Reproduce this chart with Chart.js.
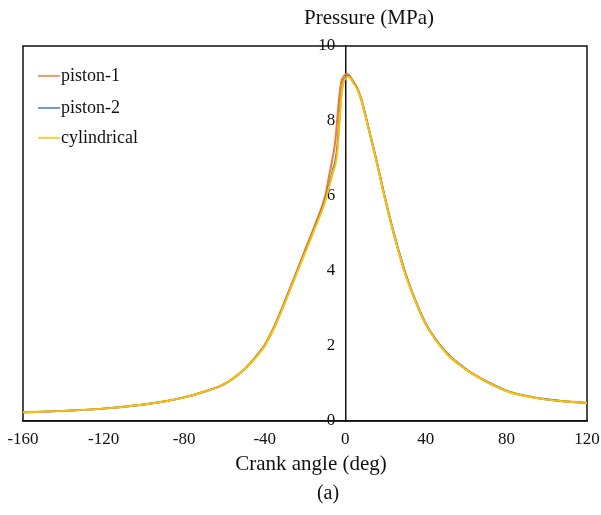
<!DOCTYPE html>
<html>
<head>
<meta charset="utf-8">
<script src="https://cdn.jsdelivr.net/npm/chart.js@4"></script>
<style>
  body { margin: 0; background: #fff; }
</style>
</head>
<body>
<canvas id="pressureChart" width="601" height="515"></canvas>
<script>
const angles = [-160, -140, -120, -100, -90, -80, -70, -60, -50, -45, -40, -35, -30, -25, -20, -15, -10, -8, -6, -5, -4, -3, -2, -1, 0, 1, 2, 3, 4, 6, 8, 10, 15, 20, 25, 30, 35, 40, 50, 60, 70, 80, 90, 100, 110, 120];
const piston1 = [0.23, 0.27, 0.33, 0.44, 0.52, 0.63, 0.78, 0.99, 1.39, 1.68, 2.03, 2.56, 3.2, 3.87, 4.56, 5.24, 6.0, 6.55, 7.1, 7.45, 8.05, 8.65, 9.05, 9.18, 9.24, 9.26, 9.22, 9.14, 9.05, 8.86, 8.56, 8.15, 7.05, 5.87, 4.81, 3.9, 3.18, 2.58, 1.82, 1.37, 1.05, 0.8, 0.66, 0.57, 0.52, 0.48];
const piston2 = [0.23, 0.27, 0.33, 0.44, 0.52, 0.63, 0.78, 0.98, 1.38, 1.67, 2.01, 2.53, 3.17, 3.84, 4.51, 5.18, 5.9, 6.3, 6.72, 6.92, 7.3, 8.0, 8.7, 9.05, 9.15, 9.2, 9.18, 9.11, 9.03, 8.87, 8.57, 8.16, 7.06, 5.89, 4.83, 3.92, 3.19, 2.59, 1.84, 1.38, 1.06, 0.81, 0.67, 0.58, 0.52, 0.48];
const cylindrical = [0.23, 0.27, 0.33, 0.44, 0.52, 0.63, 0.78, 0.98, 1.38, 1.66, 2.0, 2.52, 3.15, 3.82, 4.48, 5.15, 5.85, 6.25, 6.65, 6.82, 7.15, 7.85, 8.6, 9.0, 9.12, 9.18, 9.17, 9.1, 9.02, 8.85, 8.55, 8.14, 7.04, 5.86, 4.8, 3.89, 3.17, 2.57, 1.82, 1.37, 1.05, 0.8, 0.66, 0.57, 0.52, 0.48];

const seriesNames = ['piston-1', 'piston-2', 'cylindrical'];
const seriesColors = ['#ED7D31', '#4472C4', '#FFC000'];
const seriesValues = [piston1, piston2, cylindrical];

const xTicks = [-160, -120, -80, -40, 0, 40, 80, 120];
const yTicks = [0, 2, 4, 6, 8, 10];

const serif = "'Liberation Serif', 'Times New Roman', serif";

const toPoints = vals => angles.map((a, i) => ({ x: a, y: vals[i] }));
const noPad = s => { s.paddingLeft = 0; s.paddingRight = 0; s.paddingTop = 0; s.paddingBottom = 0; };

// frame, legend and titles drawn by hand
const decorations = {
  id: 'decorations',
  beforeDatasetsDraw(chart) {
    const { ctx, chartArea: a } = chart;
    ctx.save();
    ctx.strokeStyle = '#111';
    ctx.lineWidth = 1.5;
    ctx.strokeRect(a.left, a.top, a.right - a.left, a.bottom - a.top);
    ctx.restore();
  },
  afterDraw(chart) {
    const { ctx } = chart;
    ctx.save();
    ctx.fillStyle = '#111';
    ctx.textAlign = 'center';
    ctx.textBaseline = 'middle';
    ctx.font = `21px ${serif}`;
    ctx.fillText('Pressure (MPa)', 369, 18);
    ctx.fillText('Crank angle (deg)', 311, 464);
    ctx.font = `20px ${serif}`;
    ctx.fillText('(a)', 328, 494);

    ctx.textAlign = 'left';
    ctx.font = `18px ${serif}`;
    const rows = [76, 108, 138];
    seriesNames.forEach((name, i) => {
      ctx.strokeStyle = seriesColors[i];
      ctx.lineWidth = 1.5;
      ctx.beginPath();
      ctx.moveTo(38, rows[i]);
      ctx.lineTo(60, rows[i]);
      ctx.stroke();
      ctx.fillStyle = '#111';
      ctx.fillText(name, 61, rows[i]);
    });
    ctx.restore();
  }
};

new Chart(document.getElementById('pressureChart'), {
  type: 'line',
  data: {
    datasets: seriesNames.map((name, i) => ({
      label: name,
      data: toPoints(seriesValues[i]),
      borderColor: seriesColors[i],
      backgroundColor: seriesColors[i],
      borderWidth: 2,
      pointRadius: 0,
      cubicInterpolationMode: 'monotone',
      order: 3 - i
    }))
  },
  options: {
    responsive: false,
    animation: false,
    layout: { padding: { left: 23, right: 14, top: 46, bottom: 66 } },
    plugins: {
      legend: { display: false },
      tooltip: { enabled: false }
    },
    scales: {
      x: {
        type: 'linear',
        min: -160,
        max: 120,
        afterBuildTicks: s => { s.ticks = xTicks.map(v => ({ value: v })); },
        afterFit: s => { noPad(s); s.height = 28; },
        grid: { display: false, drawTicks: false },
        border: { display: true, color: '#111', width: 1.5 },
        ticks: { color: '#111', padding: 8, font: { family: serif, size: 17 } }
      },
      y: {
        min: 0,
        max: 10,
        position: { x: 0 },
        afterFit: noPad,
        grid: { display: false, drawTicks: false },
        border: { display: true, color: '#111', width: 1.5 },
        ticks: { display: false }
      },
      yl: {
        min: 0,
        max: 10,
        position: { x: -5 },
        afterBuildTicks: s => { s.ticks = yTicks.map(v => ({ value: v })); },
        afterFit: noPad,
        grid: { display: false, drawTicks: false },
        border: { display: false },
        ticks: { color: '#111', padding: 0, font: { family: serif, size: 17 } }
      }
    }
  },
  plugins: [decorations]
});
</script>
</body>
</html>
